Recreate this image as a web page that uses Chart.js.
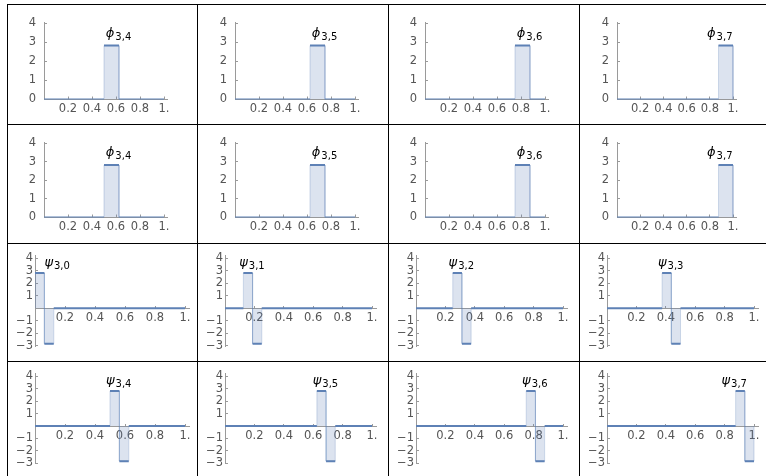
<!DOCTYPE html>
<html>
<head>
<meta charset="utf-8">
<script src="https://cdn.jsdelivr.net/npm/chart.js@4/dist/chart.umd.min.js"></script>
<style>
  html, body { margin: 0; padding: 0; background: #fff; }
  #sheet { position: relative; width: 766px; height: 476px; overflow: hidden; }
  .rule { position: absolute; background: #000; }
  canvas { position: absolute; }
</style>
</head>
<body>
<div id="sheet"></div>
<script>
// ---- values: Haar scaling functions ϕ3,k and wavelets ψ3,k on [0,1] ----
const level = 3;
const stepHeight = 2.83;                              // height of every step
const binWidth = 0.125;                               // support length of each function
const scalingIndex = [4, 5, 6, 7];                    // ϕ3,4 … ϕ3,7
const scalingStarts = [0.5, 0.625, 0.75, 0.875];
const waveletIndex = [0, 1, 2, 3, 4, 5, 6, 7];        // ψ3,0 … ψ3,7
const waveletStarts = [0, 0.125, 0.25, 0.375, 0.5, 0.625, 0.75, 0.875];
const xTickValues = [0.2, 0.4, 0.6, 0.8, 1];
const yTicksScaling = [0, 1, 2, 3, 4];
const yTicksWavelet = [-3, -2, -1, 1, 2, 3, 4];

// ---- sheet layout ----
const colLeft = [7, 197, 388, 579, 770];
const rowTop = [4, 124, 243, 361, 480];
const rowZero = [99.5, 217.5, 307.5, 425];            // pixel row of y = 0 in each row
const xMax = 1.03;
const kinds = {
  scaling: { yMin: 0, yMax: 4.02, pxPerY: 19.75, axisOffset: [37, 38, 37, 38], span: [120, 120, 120, 116],
             yPad: 11, xPad: 6, lift: 5.5, nudge: 7 },
  wavelet: { yMin: -3.05, yMax: 4.2, pxPerY: 12.75, axisOffset: [28, 28, 28, 28], span: [150, 147, 147, 147],
             yPad: 5, xPad: 6, lift: 3.5, nudge: 4 }
};
const rows = [
  { kind: 'scaling', symbol: 'ϕ', index: scalingIndex, starts: scalingStarts },
  { kind: 'scaling', symbol: 'ϕ', index: scalingIndex, starts: scalingStarts },
  { kind: 'wavelet', symbol: 'ψ', index: waveletIndex.slice(0, 4), starts: waveletStarts.slice(0, 4) },
  { kind: 'wavelet', symbol: 'ψ', index: waveletIndex.slice(4), starts: waveletStarts.slice(4) }
];

const LINE = '#5E81B5';
const FILL = 'rgba(94,129,181,0.22)';
const EDGE = 'rgba(94,129,181,0.3)';
const AXIS = '#9a9a9a';
const TICKTEXT = '#555555';
const tickFont = { family: '"DejaVu Sans", sans-serif', size: 11.5 };

const sheet = document.getElementById('sheet');

// cell rules
colLeft.slice(0, 4).forEach(x => {
  const d = document.createElement('div');
  d.className = 'rule';
  Object.assign(d.style, { left: x + 'px', top: rowTop[0] + 'px', width: '1px', height: '480px' });
  sheet.appendChild(d);
});
rowTop.slice(0, 4).forEach(y => {
  const d = document.createElement('div');
  d.className = 'rule';
  Object.assign(d.style, { left: colLeft[0] + 'px', top: y + 'px', width: '770px', height: '1px' });
  sheet.appendChild(d);
});

// thick curve (with breaks at the jumps) and filled outline for one function
function stepPaths(kind, a) {
  const h = stepHeight, b = a + binWidth;
  if (kind === 'scaling') {
    return {
      curve: [{x: 0, y: 0}, {x: a, y: 0}, {x: a, y: null}, {x: a, y: h}, {x: b, y: h},
              {x: b, y: null}, {x: b, y: 0}, {x: 1, y: 0}],
      area: [{x: a, y: 0}, {x: a, y: h}, {x: b, y: h}, {x: b, y: 0}],
      posEnd: b
    };
  }
  const m = a + binWidth / 2;
  return {
    curve: [{x: 0, y: 0}, {x: a, y: 0}, {x: a, y: null}, {x: a, y: h}, {x: m, y: h},
            {x: m, y: null}, {x: m, y: -h}, {x: b, y: -h}, {x: b, y: null}, {x: b, y: 0}, {x: 1, y: 0}],
    area: [{x: a, y: 0}, {x: a, y: h}, {x: m, y: h}, {x: m, y: -h}, {x: b, y: -h}, {x: b, y: 0}],
    posEnd: m
  };
}

// name tag ϕ3,k / ψ3,k above the positive step
const nameTag = {
  id: 'nameTag',
  afterDatasetsDraw(chart, args, opts) {
    const {ctx, scales: {x, y}} = chart;
    const pl = x.getPixelForValue(opts.start), pr = x.getPixelForValue(opts.posEnd);
    ctx.save();
    ctx.font = 'italic 13px "DejaVu Sans"';
    const w1 = ctx.measureText(opts.symbol).width;
    ctx.font = '10px "DejaVu Sans"';
    const w2 = ctx.measureText(opts.sub).width;
    const total = w1 + 1 + w2;
    let x0;
    if (opts.start <= 0) x0 = pr;
    else if (opts.start + binWidth >= 1) x0 = (pl + pr) / 2 - 6 - total / 2;
    else x0 = (pl + pr) / 2 + opts.nudge - total / 2;
    const base = y.getPixelForValue(stepHeight) - opts.lift;
    ctx.fillStyle = '#000';
    ctx.textBaseline = 'alphabetic';
    ctx.textAlign = 'left';
    ctx.font = 'italic 13px "DejaVu Sans"';
    ctx.fillText(opts.symbol, x0, base - 3);
    ctx.font = '10px "DejaVu Sans"';
    ctx.fillText(opts.sub, x0 + w1 + 1, base);
    ctx.restore();
  }
};

const fmtX = v => (v === 1 ? '1.' : v.toFixed(1));
const fmtY = v => (v < 0 ? '\u2212' + Math.abs(v) : String(v));

rows.forEach((row, r) => {
  const K = kinds[row.kind];
  row.starts.forEach((start, c) => {
    const cvLeft = colLeft[c] + 1, cvTop = rowTop[r] + 1;
    const w = colLeft[c + 1] - colLeft[c] - 1, h = rowTop[r + 1] - rowTop[r] - 1;
    const areaLeft = colLeft[c] + K.axisOffset[c] - cvLeft;
    const areaRight = areaLeft + xMax * K.span[c];
    const areaTop = rowZero[r] - K.yMax * K.pxPerY - cvTop;
    const areaBottom = rowZero[r] - K.yMin * K.pxPerY - cvTop;

    const cv = document.createElement('canvas');
    cv.width = w; cv.height = h;
    Object.assign(cv.style, { left: cvLeft + 'px', top: cvTop + 'px', width: w + 'px', height: h + 'px' });
    sheet.appendChild(cv);

    const paths = stepPaths(row.kind, start);
    const onBottom = row.kind === 'scaling';

    new Chart(cv, {
      type: 'line',
      data: {
        datasets: [
          { data: paths.curve, borderColor: LINE, borderWidth: 2, pointRadius: 0, fill: false,
            spanGaps: false, tension: 0, order: 0 },
          { data: paths.area, borderColor: EDGE, borderWidth: 1, backgroundColor: FILL, pointRadius: 0,
            fill: 'origin', tension: 0, order: 1 }
        ]
      },
      options: {
        responsive: false,
        animation: false,
        events: [],
        devicePixelRatio: 1,
        layout: { padding: { left: 0, top: areaTop, right: w - areaRight, bottom: onBottom ? 0 : h - areaBottom } },
        plugins: {
          legend: { display: false },
          tooltip: { enabled: false },
          nameTag: { symbol: row.symbol, sub: level + ',' + row.index[c], start: start,
                     posEnd: paths.posEnd, lift: K.lift, nudge: K.nudge }
        },
        scales: {
          x: {
            type: 'linear',
            position: onBottom ? 'bottom' : { y: 0 },
            min: 0, max: xMax,
            afterBuildTicks: s => { s.ticks = xTickValues.map(v => ({ value: v })); },
            afterFit: s => { s.height = onBottom ? h - areaBottom : 0; },
            ticks: { callback: fmtX, color: TICKTEXT, font: tickFont, padding: K.xPad,
                     autoSkip: false, maxRotation: 0, minRotation: 0 },
            grid: { drawOnChartArea: false, drawTicks: true, tickLength: -3, color: AXIS },
            border: { color: AXIS, width: 1 }
          },
          y: {
            type: 'linear',
            position: 'left',
            min: K.yMin, max: K.yMax,
            afterBuildTicks: s => {
              s.ticks = (onBottom ? yTicksScaling : yTicksWavelet).map(v => ({ value: v }));
            },
            afterFit: s => { s.width = areaLeft; },
            ticks: { callback: fmtY, color: TICKTEXT, font: tickFont, padding: K.yPad, autoSkip: false },
            grid: { drawOnChartArea: false, drawTicks: true, tickLength: -3, color: AXIS },
            border: { color: AXIS, width: 1 }
          }
        }
      },
      plugins: [nameTag]
    });
  });
});
</script>
</body>
</html>
